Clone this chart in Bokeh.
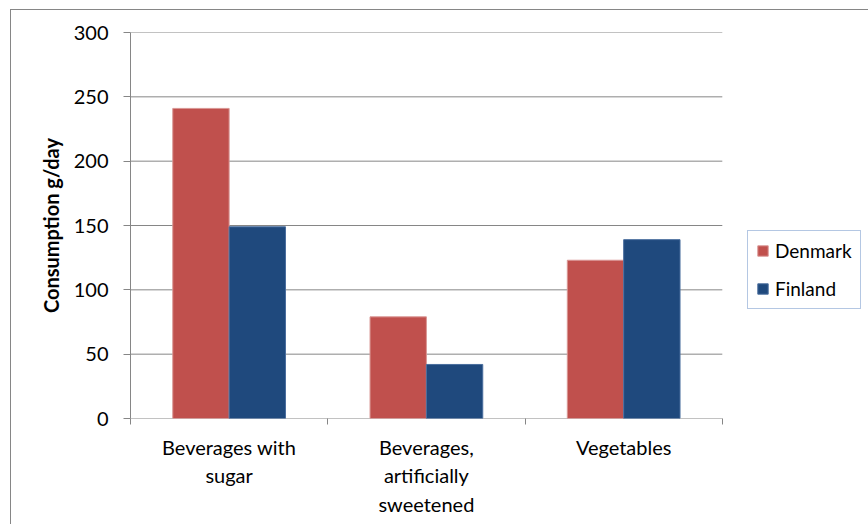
from bokeh.plotting import figure
from bokeh.models import Range1d, FixedTicker, Legend, LegendItem
from bokeh.transform import dodge
from bokeh.models import ColumnDataSource
from bokeh.embed import file_html
from bokeh.resources import INLINE

categories = ["Beverages with sugar", "Beverages, artificially sweetened", "Vegetables"]
category_labels = ["Beverages with\nsugar", "Beverages,\nartificially\nsweetened", "Vegetables"]
series = ["Denmark", "Finland"]
denmark = [241, 79, 123]
finland = [149, 42, 139]
y_ticks = [0, 50, 100, 150, 200, 250, 300]
colors = ["#C0504D", "#1F497D"]
edge_colors = ["#D99694", "#4A6E9E"]

FONT = "Lato"
GRID = "#868686"

n = len(categories)
xpos = [i + 0.5 for i in range(n)]
bounds = [float(i) for i in range(n + 1)]
src = ColumnDataSource(dict(x=xpos, denmark=denmark, finland=finland))
grid_src = ColumnDataSource(dict(y=y_ticks, x0=[0] * len(y_ticks), x1=[n] * len(y_ticks)))

# plot area spans 591 px for the categories; the frame continues to the right edge
# so the legend can sit inside it, right of the plot area
x_end = n * 738 / 591

p = figure(width=858, height=515, output_backend="svg", toolbar_location=None,
           x_range=Range1d(0, x_end), y_range=Range1d(0, 300),
           min_border_left=119, min_border_right=0, min_border_top=22, min_border_bottom=107)
p.margin = (9, 0, 0, 10)
p.styles = {"border-left": "1px solid #868686", "border-top": "1px solid #868686",
            "box-sizing": "border-box"}
p.outline_line_color = None
p.background_fill_color = "white"
p.border_fill_color = "white"

# horizontal gridlines limited to the plot area
p.segment(x0="x0", x1="x1", y0="y", y1="y", source=grid_src, line_color=GRID, line_width=1)

bw = 1.0 / 3.5
r1 = p.vbar(x=dodge("x", -bw / 2, range=p.x_range), top="denmark", width=bw, source=src,
            fill_color=colors[0], line_color=edge_colors[0], line_width=1)
r2 = p.vbar(x=dodge("x", bw / 2, range=p.x_range), top="finland", width=bw, source=src,
            fill_color=colors[1], line_color=edge_colors[1], line_width=1)

# x axis
xa = p.xaxis[0]
xa.ticker = FixedTicker(ticks=xpos, minor_ticks=bounds)
xa.major_label_overrides = {x: lab for x, lab in zip(xpos, category_labels)}
xa.major_tick_out = 0
xa.major_tick_in = 0
xa.minor_tick_out = 6
xa.minor_tick_in = 0
xa.minor_tick_line_color = GRID
xa.axis_line_color = None
xa.major_label_text_font = FONT
xa.major_label_text_font_size = "20px"
xa.major_label_text_color = "#000000"
xa.major_label_standoff = 10

# y axis
ya = p.yaxis[0]
ya.ticker = FixedTicker(ticks=y_ticks, minor_ticks=[])
ya.major_tick_out = 7
ya.major_tick_in = 0
ya.major_tick_line_color = GRID
ya.axis_line_color = GRID
ya.major_label_text_font = FONT
ya.major_label_text_font_size = "20px"
ya.major_label_text_color = "#000000"
ya.major_label_standoff = 15
ya.axis_label = "Consumption g/day"
ya.axis_label_text_font = FONT
ya.axis_label_text_font_style = "bold"
ya.axis_label_text_font_size = "20px"
ya.axis_label_text_color = "#000000"
ya.axis_label_standoff = 8

p.xgrid.visible = False
p.ygrid.visible = False

legend = Legend(items=[LegendItem(label=series[0], renderers=[r1]),
                       LegendItem(label=series[1], renderers=[r2])],
                location=(617, 109))
legend.border_line_color = "#6A8FC8"
legend.border_line_width = 1
legend.background_fill_color = "white"
legend.label_text_font = FONT
legend.label_text_font_size = "19px"
legend.label_text_color = "#000000"
legend.glyph_width = 13
legend.glyph_height = 13
legend.label_height = 20
legend.spacing = 15
legend.padding = 8
legend.margin = 0
legend.label_standoff = 6
p.add_layout(legend)

open("out.html", "w").write(file_html(p, INLINE))
